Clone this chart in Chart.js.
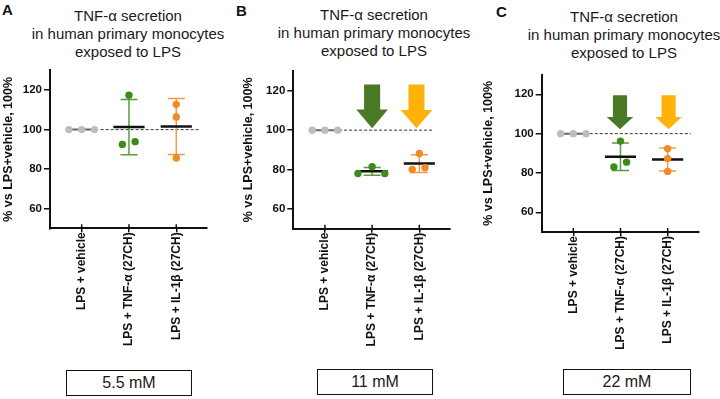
<!DOCTYPE html>
<html lang="en">
<head>
<meta charset="UTF-8">
<title>TNF-α secretion in human primary monocytes</title>
<script src="https://cdn.jsdelivr.net/npm/chart.js"></script>
<style>
  body { margin: 0; background: #fff; font-family: Arial, "Liberation Sans", sans-serif; }
  #page { position: relative; width: 720px; height: 399px; overflow: hidden; }
  #page canvas { position: absolute; top: 0; }
  .title { position: absolute; width: 240px; text-align: center; font-size: 15px; line-height: 17.8px; color: #1a1a1a; }
  .letter { position: absolute; font-weight: bold; font-size: 15px; line-height: 15px; color: #111; }
  .box { position: absolute; box-sizing: border-box; border: 1.5px solid #111; text-align: center; font-size: 16px; color: #1a1a1a; }
</style>
</head>
<body>
<div id="page">
  <div class="letter" style="left:2px;top:2px">A</div>
  <div class="letter" style="left:236px;top:3px">B</div>
  <div class="letter" style="left:496px;top:4px">C</div>

  <div class="title" style="left:8px;top:7px">TNF-α secretion<br>in human primary monocytes<br>exposed to LPS</div>
  <div class="title" style="left:254px;top:6px">TNF-α secretion<br>in human primary monocytes<br>exposed to LPS</div>
  <div class="title" style="left:504px;top:8px">TNF-α secretion<br>in human primary monocytes<br>exposed to LPS</div>

  <canvas id="chartA" width="240" height="360" style="left:0px"></canvas>
  <canvas id="chartB" width="240" height="360" style="left:240px"></canvas>
  <canvas id="chartC" width="240" height="360" style="left:480px"></canvas>

  <div class="box" id="boxA" style="left:66px;top:370px;width:126px;height:26px;line-height:23px"></div>
  <div class="box" id="boxB" style="left:317px;top:369px;width:116px;height:26px;line-height:23px"></div>
  <div class="box" id="boxC" style="left:563px;top:369px;width:128px;height:26px;line-height:23px"></div>
</div>

<script>
const categories = ['LPS + vehicle', 'LPS + TNF-α (27CH)', 'LPS + IL-1β (27CH)'];
const yTicks = [60, 80, 100, 120];
const glucoseLabels = ['5.5 mM', '11 mM', '22 mM'];
const yAxisTitle = '% vs LPS+vehicle, 100%';

// % of LPS + vehicle, one value per donor (left, middle, right dot)
const vehicleA = [100, 100, 100];
const tnfA = [92.5, 117.4, 93.9];
const il1A = [112.8, 106.4, 85.6];

const vehicleB = [100, 100, 100];
const tnfB = [78.0, 81.4, 78.0];
const il1B = [80.0, 88.2, 80.9];

const vehicleC = [100, 100, 100];
const tnfC = [83.0, 96.2, 85.5];
const il1C = [92.4, 87.3, 80.8];

// arrows over TNF / IL-1 groups (top of shaft, start of head, tip)
const arrowTopB = [123.2, 123.2];
const arrowNeckB = [110.5, 110.2];
const arrowTipB = [100.9, 100.9];
const arrowTopC = [119.5, 119.5];
const arrowNeckC = [108.5, 108.5];
const arrowTipC = [102.2, 102.2];

const colors = ['#bdbdbd', '#3f8a1e', '#f08a24'];
const barColors = ['#999', '#5c9c3c', '#f39a45'];
const arrowColors = ['#4a7a26', '#ffb20a'];
const ink = '#111';

Chart.defaults.font.family = 'Arial, "Liberation Sans", sans-serif';
Chart.defaults.color = ink;

const panels = [
  { id: 'chartA', box: 'boxA', area: { l: 50, r: 207, t: 70.4, b: 228.3 }, dash: [0.40, 2.47],
    groups: [vehicleA, tnfA, il1A],
    jitter: [[-0.27, 0, 0.27], [-0.14, 0, 0.13], [0, 0, 0]], arrows: null },
  { id: 'chartB', box: 'boxB', area: { l: 53.3, r: 210, t: 71, b: 228.7 }, dash: [0.30, 2.27],
    groups: [vehicleB, tnfB, il1B],
    jitter: [[-0.27, 0, 0.27], [-0.3, 0, 0.27], [-0.15, 0, 0.12]],
    arrows: { top: arrowTopB, neck: arrowNeckB, tip: arrowTipB, pos: [1, 1.94], head: 0.335, shaft: 0.17 } },
  { id: 'chartC', box: 'boxC', area: { l: 61.7, r: 218.3, t: 74.6, b: 232 }, dash: [0.35, 2.49],
    groups: [vehicleC, tnfC, il1C],
    jitter: [[-0.27, 0, 0.27], [-0.14, 0, 0.13], [0, 0, 0]],
    arrows: { top: arrowTopC, neck: arrowNeckC, tip: arrowTipC, pos: [0.99, 2.02], head: 0.28, shaft: 0.15 } }
];

function mean(a) { return a.reduce((s, v) => s + v, 0) / a.length; }
function sd(a) {
  const m = mean(a);
  return Math.sqrt(a.reduce((s, v) => s + (v - m) * (v - m), 0) / (a.length - 1));
}

function groupDatasets(vals, cat, jit) {
  const m = mean(vals), s = sd(vals);
  const isVehicle = cat === 0;
  const ds = [];
  ds.push({
    data: vals.map((v, i) => ({ x: cat + jit[i], y: v })),
    pointRadius: 3.7, pointBackgroundColor: colors[cat], pointBorderWidth: 0, order: 1
  });
  const half = isVehicle ? 0.27 : 0.33;
  ds.push({
    data: [{ x: cat - half, y: m }, { x: cat + half, y: m }],
    showLine: true, borderColor: isVehicle ? '#666' : ink, borderWidth: isVehicle ? 2 : 2.5,
    pointRadius: 0, order: 2
  });
  if (s > 0) {
    const c = 0.18;
    ds.push({
      data: [
        { x: cat - c, y: m + s }, { x: cat + c, y: m + s }, { x: cat, y: null },
        { x: cat, y: m + s }, { x: cat, y: m - s }, { x: cat, y: null },
        { x: cat - c, y: m - s }, { x: cat + c, y: m - s }
      ],
      showLine: true, spanGaps: false, borderColor: barColors[cat], borderWidth: 1.5,
      pointRadius: 0, order: 3
    });
  }
  return ds;
}

const panelExtras = {
  id: 'panelExtras',
  afterDatasetsDraw(chart, args, opts) {
    const ctx = chart.ctx, xs = chart.scales.x, ys = chart.scales.y;
    ctx.save();
    // x ticks cross the axis line: draw the inner half
    ctx.strokeStyle = ink;
    ctx.lineWidth = 1.5;
    xs.ticks.forEach(t => {
      const px = xs.getPixelForValue(t.value);
      ctx.beginPath();
      ctx.moveTo(px, ys.bottom);
      ctx.lineTo(px, ys.bottom - 4);
      ctx.stroke();
    });
    const a = opts.arrows;
    if (a) {
      a.pos.forEach((cx, i) => {
        const X = v => xs.getPixelForValue(v), Y = v => ys.getPixelForValue(v);
        ctx.fillStyle = arrowColors[i];
        ctx.beginPath();
        ctx.moveTo(X(cx - a.shaft), Y(a.top[i]));
        ctx.lineTo(X(cx + a.shaft), Y(a.top[i]));
        ctx.lineTo(X(cx + a.shaft), Y(a.neck[i]));
        ctx.lineTo(X(cx + a.head), Y(a.neck[i]));
        ctx.lineTo(X(cx), Y(a.tip[i]));
        ctx.lineTo(X(cx - a.head), Y(a.neck[i]));
        ctx.lineTo(X(cx - a.shaft), Y(a.neck[i]));
        ctx.closePath();
        ctx.fill();
      });
    }
    ctx.restore();
  }
};

panels.forEach((p, k) => {
  document.getElementById(p.box).textContent = glucoseLabels[k];

  let datasets = [];
  p.groups.forEach((vals, cat) => { datasets = datasets.concat(groupDatasets(vals, cat, p.jitter[cat])); });
  datasets.push({
    data: [{ x: p.dash[0], y: 100 }, { x: p.dash[1], y: 100 }],
    showLine: true, borderColor: '#333', borderWidth: 1, borderDash: [3, 2], pointRadius: 0, order: 4
  });

  const canvas = document.getElementById(p.id);
  new Chart(canvas.getContext('2d'), {
    type: 'scatter',
    data: { datasets: datasets },
    options: {
      responsive: false,
      animation: false,
      layout: { padding: { top: p.area.t, right: 240 - p.area.r, left: 0, bottom: 0 } },
      plugins: {
        legend: { display: false },
        tooltip: { enabled: false },
        panelExtras: { arrows: p.arrows }
      },
      scales: {
        x: {
          type: 'linear', position: 'bottom', min: -0.67, max: 2.65,
          afterFit: s => { s.height = canvas.height - p.area.b; },
          afterBuildTicks: s => { s.ticks = categories.map((c, i) => ({ value: i })); },
          ticks: {
            callback: v => categories[v],
            autoSkip: false, minRotation: 90, maxRotation: 90, padding: 0,
            font: { size: 12, weight: 'bold' }, color: ink
          },
          grid: { drawOnChartArea: false, tickLength: 4, color: ink, lineWidth: 1.5 },
          border: { color: ink, width: 2 }
        },
        y: {
          min: 50, max: 130,
          afterFit: s => { s.width = p.area.l; },
          afterBuildTicks: s => { s.ticks = yTicks.map(v => ({ value: v })); },
          ticks: { font: { size: 11.5, weight: 'bold' }, color: ink, padding: 2 },
          grid: { drawOnChartArea: false, tickLength: 6, color: ink, lineWidth: 1.5 },
          border: { color: ink, width: 2 },
          title: { display: true, text: yAxisTitle, font: { size: 12.5, weight: 'bold' }, color: ink, padding: { top: 1, bottom: 0 } }
        }
      }
    },
    plugins: [panelExtras]
  });
});
</script>
</body>
</html>
